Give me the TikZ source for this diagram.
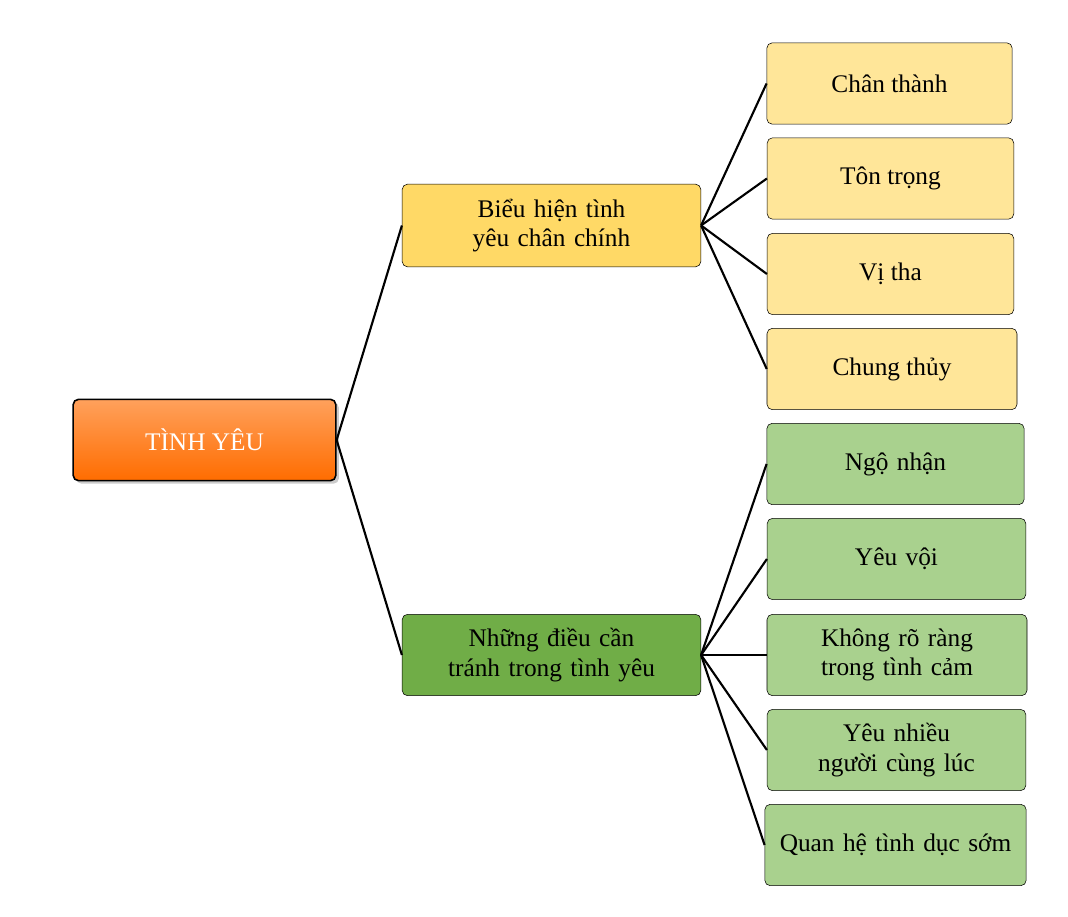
\documentclass[tikz,border=0pt]{standalone}
\usepackage{fontspec}
\setmainfont{Liberation Serif}
\usetikzlibrary{shadows}
\begin{document}
\begin{tikzpicture}[x=0.75pt,y=-0.75pt,
 box/.style={draw=black,rounded corners=4pt,align=center,inner sep=1pt,font=\fontsize{19}{22}\selectfont},
 ln/.style={line width=1.6pt}]
\useasboundingbox (0,0) rectangle (1068,917);
\node[box,line width=1.2pt,minimum width=197pt,minimum height=61pt,top color=orange!60!white!90!red,bottom color=orange!85!red,text=white,drop shadow={opacity=0.4}] (root) at (204.5,440) {TÌNH YÊU};
\node[box,minimum width=224pt,minimum height=62pt,fill={rgb,255:red,255;green,217;blue,102},text width=215pt] (p1) at (551.5,225.5) {Biểu hiện tình yêu chân chính};
\node[box,minimum width=224pt,minimum height=61pt,fill={rgb,255:red,112;green,173;blue,71},text width=215pt] (p2) at (551.5,655) {Những điều cần tránh trong tình yêu};
\tikzset{yl/.style={box,fill={rgb,255:red,255;green,230;blue,153},minimum height=61pt},
 gl/.style={box,fill={rgb,255:red,169;green,209;blue,142},minimum height=61pt,text width=188pt}}
\node[yl,minimum width=184pt] (a1) at (889.5,83.5) {Chân thành};
\node[yl,minimum width=185pt] (a2) at (890.5,178.5) {Tôn trọng};
\node[yl,minimum width=185pt] (a3) at (890.5,274) {Vị tha};
\node[yl,minimum width=187.5pt] (a4) at (892,369) {Chung thủy};
\node[gl,minimum width=193pt] (b1) at (895.5,464) {Ngộ nhận};
\node[gl,minimum width=194pt] (b2) at (896.5,559) {Yêu vội};
\node[gl,minimum width=195pt] (b3) at (897,655) {Không rõ ràng trong tình cảm};
\node[gl,minimum width=194pt] (b4) at (896.5,750) {Yêu nhiều người cùng lúc};
\node[gl,minimum width=196pt] (b5) at (895.5,845) {Quan hệ tình dục sớm};
\draw[ln] (root.east) -- (p1.west);
\draw[ln] (root.east) -- (p2.west);
\foreach \n in {a1,a2,a3,a4} \draw[ln] (p1.east) -- (\n.west);
\foreach \n in {b1,b2,b3,b4,b5} \draw[ln] (p2.east) -- (\n.west);
\end{tikzpicture}
\end{document}
